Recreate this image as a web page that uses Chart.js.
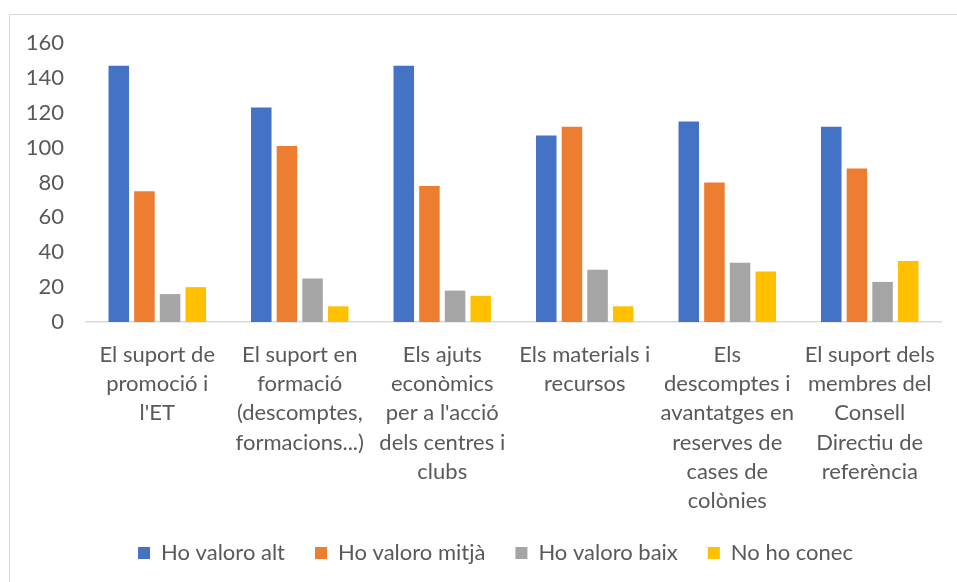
<!DOCTYPE html>
<html>
<head>
<meta charset="utf-8">
<script src="https://cdn.jsdelivr.net/npm/chart.js@4"></script>
<style>
  body { margin: 0; background: #fff; }
  #wrap { position: relative; width: 957px; height: 582px; }
  #frame { position: absolute; left: 9px; top: 14px; width: 1000px; height: 600px; border-left: 1.5px solid #d9d9d9; border-top: 1.5px solid #d9d9d9; }
  canvas { position: absolute; left: 0; top: 0; }
</style>
</head>
<body>
<div id="wrap">
  <div id="frame"></div>
  <canvas id="chart" width="957" height="582"></canvas>
</div>
<script>
const categories = [
  ['El suport de', 'promoció i', "l'ET"],
  ['El suport en', 'formació', '(descomptes,', 'formacions...)'],
  ['Els ajuts', 'econòmics', "per a l'acció", 'dels centres i', 'clubs'],
  ['Els materials i', 'recursos'],
  ['Els', 'descomptes i', 'avantatges en', 'reserves de', 'cases de', 'colònies'],
  ['El suport dels', 'membres del', 'Consell', 'Directiu de', 'referència']
];
const valoroAlt = [147, 123, 147, 107, 115, 112];
const valoroMitja = [75, 101, 78, 112, 80, 88];
const valoroBaix = [16, 25, 18, 30, 34, 23];
const noConec = [20, 9, 15, 9, 29, 35];
const yTicks = [0, 20, 40, 60, 80, 100, 120, 140, 160];

const textColor = '#595959';
const fontFamily = 'Lato, "Open Sans", sans-serif';

// legend sits a bit right of centre in the original
const nudgeLegend = {
  id: 'nudgeLegend',
  afterLayout(chart) { if (chart.legend) chart.legend.left += 40; }
};

new Chart(document.getElementById('chart'), {
  type: 'bar',
  data: {
    labels: categories,
    datasets: [
      { label: 'Ho valoro alt', data: valoroAlt, backgroundColor: '#4472C4' },
      { label: 'Ho valoro mitjà', data: valoroMitja, backgroundColor: '#ED7D31' },
      { label: 'Ho valoro baix', data: valoroBaix, backgroundColor: '#A5A5A5' },
      { label: 'No ho conec', data: noConec, backgroundColor: '#FFC000' }
    ]
  },
  plugins: [nudgeLegend],
  options: {
    responsive: false,
    animation: false,
    categoryPercentage: 0.72,
    barPercentage: 0.8,
    layout: { padding: { left: 10, right: 16, top: 43, bottom: 8 } },
    plugins: {
      tooltip: { enabled: false },
      legend: {
        position: 'bottom',
        labels: { boxWidth: 12, boxHeight: 12, padding: 30, color: textColor, font: { family: fontFamily, size: 22 } }
      }
    },
    scales: {
      x: {
        grid: { display: false },
        border: { display: true, color: '#d9d9d9', width: 1.5 },
        ticks: { color: textColor, maxRotation: 0, autoSkip: false, padding: 10, font: { family: fontFamily, size: 22, lineHeight: 1.33 } },
        afterFit: s => { s.height = 190; }
      },
      y: {
        min: 0,
        max: 160,
        afterBuildTicks: s => { s.ticks = yTicks.map(v => ({ value: v })); },
        grid: { display: false, drawTicks: false },
        border: { display: false },
        ticks: { color: textColor, padding: 22, font: { family: fontFamily, size: 22 } },
        afterFit: s => { s.width = 76; }
      }
    }
  }
});
</script>
</body>
</html>
